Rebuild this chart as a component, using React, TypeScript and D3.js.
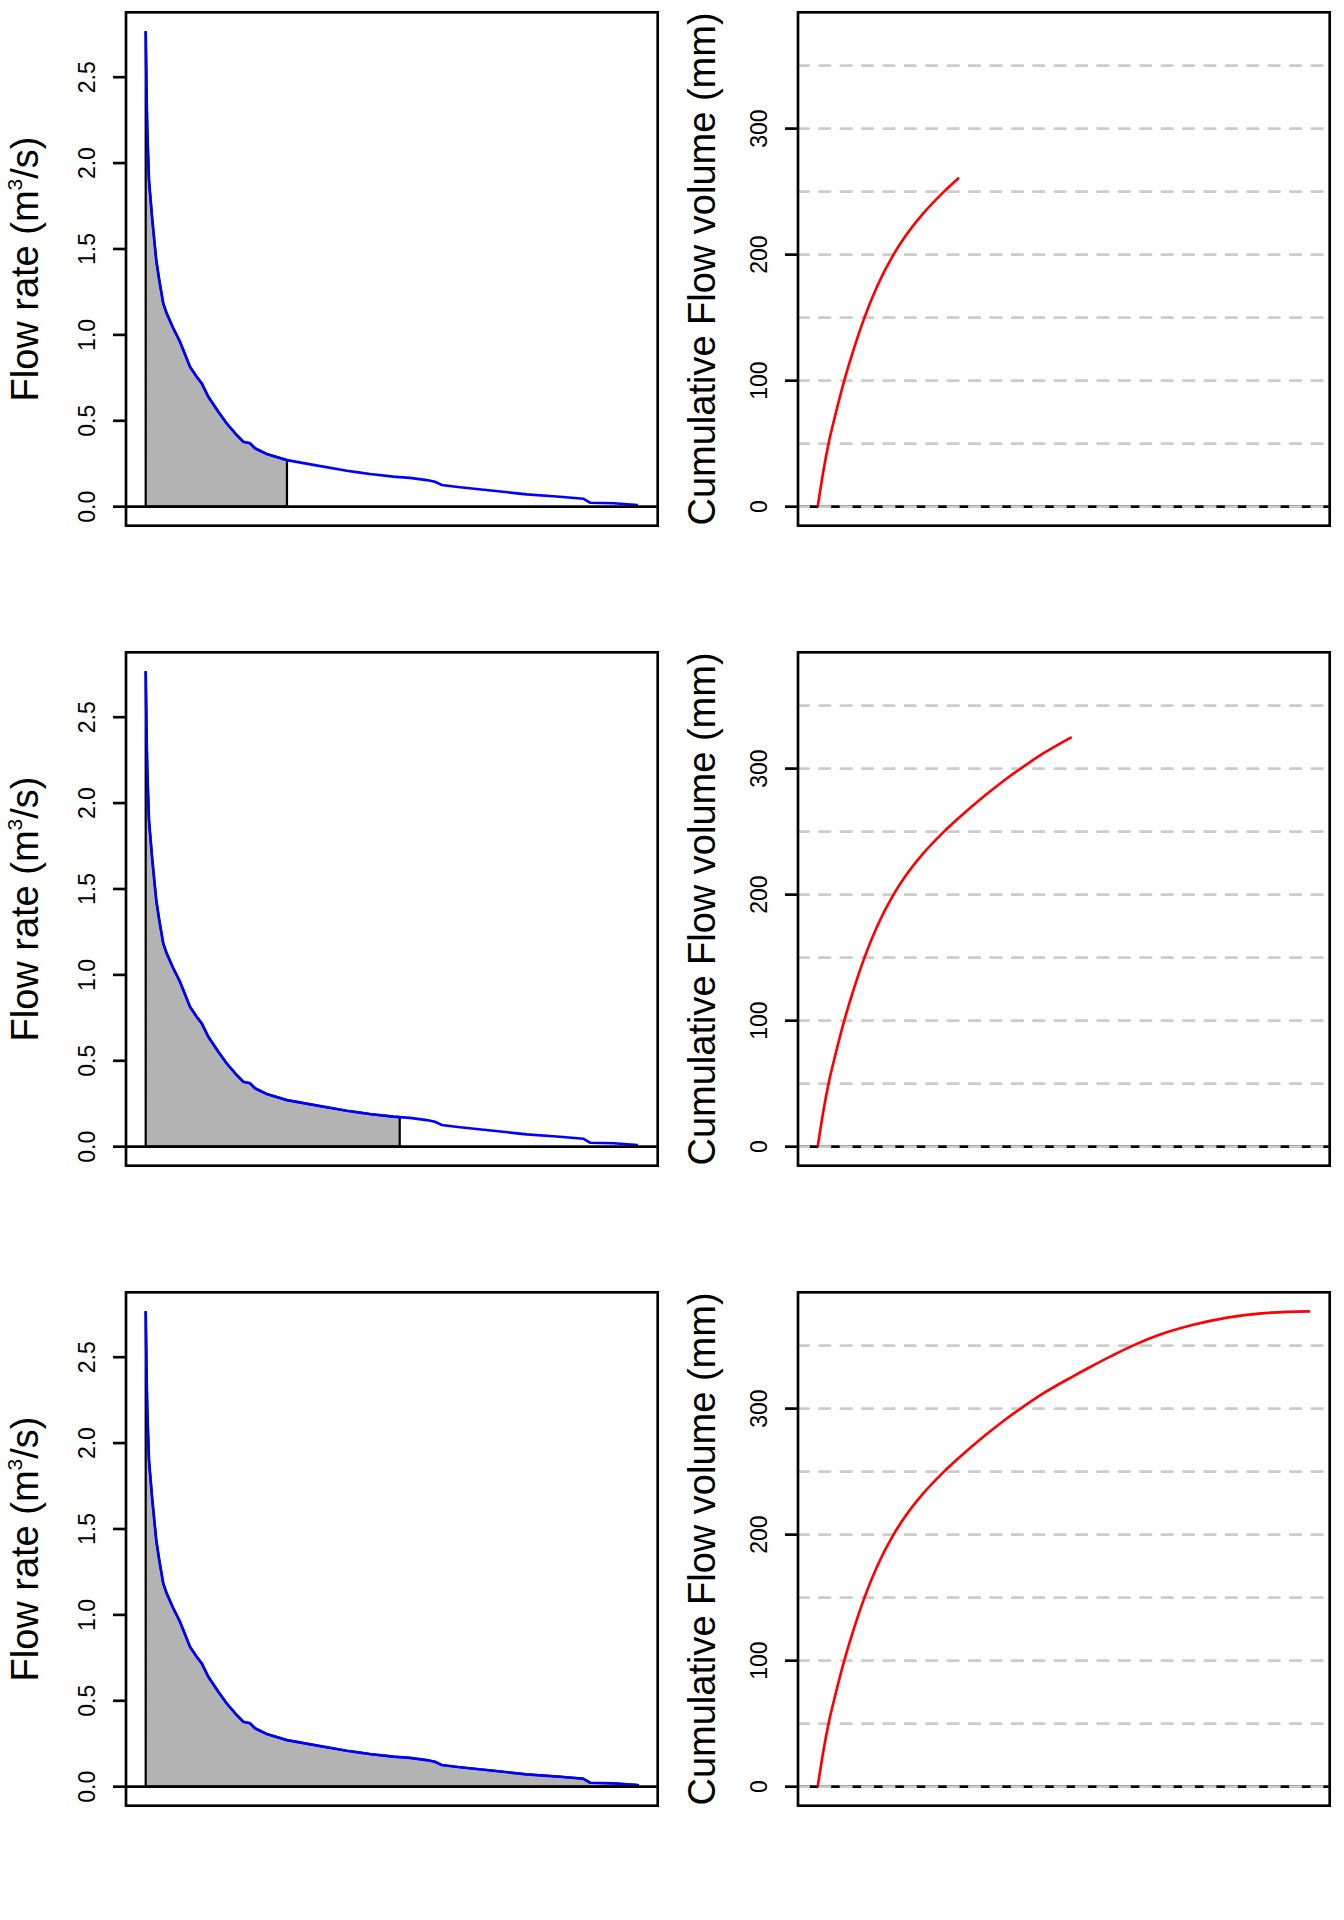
import { scaleLinear, line, curveMonotoneX } from "d3";

// flow duration curve (fraction of record exceeded vs flow)
const flowExceedance = [
  0, 0.002, 0.0033, 0.0067, 0.0134, 0.0215, 0.0276, 0.0357, 0.0427, 0.0561,
  0.0697, 0.09, 0.1036, 0.1138, 0.1272, 0.1475, 0.1645, 0.1849, 0.1984,
  0.2119, 0.2221, 0.2458, 0.287, 0.3405, 0.4084, 0.4353, 0.4556, 0.5029,
  0.516, 0.5369, 0.5708, 0.5877, 0.6013, 0.6385, 0.7062, 0.774, 0.8415,
  0.8889, 0.9025, 0.9499, 1.0,
];
const flowRate = [
  2.767, 2.37, 2.19, 1.9, 1.67, 1.434, 1.318, 1.183, 1.125, 1.038, 0.96,
  0.814, 0.756, 0.718, 0.64, 0.553, 0.485, 0.417, 0.378, 0.369, 0.34, 0.307,
  0.271, 0.243, 0.209, 0.198, 0.19, 0.175, 0.172, 0.168, 0.155, 0.145, 0.126,
  0.113, 0.093, 0.072, 0.058, 0.0465, 0.023, 0.0198, 0.0099,
];

// cumulative volume along the same axis
const volumeExceedance = [
  0, 0.0114, 0.022, 0.036, 0.054, 0.072, 0.095, 0.1215, 0.154, 0.178, 0.214,
  0.2566, 0.287, 0.313, 0.37, 0.409, 0.4556, 0.516, 0.548, 0.598, 0.64, 0.69,
  0.761, 0.832, 0.896, 0.953, 1.0,
];
const cumulativeVolume = [
  0, 28, 50, 73, 100, 123.4, 150, 175.5, 200, 214.5, 232.5, 250, 261, 270,
  288, 299.1, 311.4, 325, 331.8, 342, 350, 358, 366.3, 372.2, 375.4, 376.8,
  377.2,
];

// where the shaded part stops in each row
const cutoffs = [0.287, 0.516, 1.0];

const flowTicks = [0, 0.5, 1.0, 1.5, 2.0, 2.5];
const flowTickLabels = ["0.0", "0.5", "1.0", "1.5", "2.0", "2.5"];
const volumeTicks = [0, 100, 200, 300];
const gridLevels = [0, 50, 100, 150, 200, 250, 300, 350];

const W = 1344;
const H = 1920;
const rowH = 640;
const colW = 672;
const box = { top: 12.3, bottom: 525.7, left: 126, right: 657.7 };
const lw = 2.67;
const font = "'Liberation Sans', Arial, Helvetica, sans-serif";

const pad = (lo: number, hi: number) => {
  const e = (hi - lo) * 0.04;
  return [lo - e, hi + e];
};

const xScale = scaleLinear()
  .domain(pad(0, 1))
  .range([box.left, box.right]);

const flowMax = Math.max(...flowRate);
const volMax = Math.max(...cumulativeVolume);

const yFlow = scaleLinear().domain(pad(0, flowMax)).range([box.bottom, box.top]);
const yVol = scaleLinear().domain(pad(0, volMax)).range([box.bottom, box.top]);

const flowPts: [number, number][] = flowExceedance.map((f, i) => [f, flowRate[i]]);
const volPts: [number, number][] = volumeExceedance.map((f, i) => [f, cumulativeVolume[i]]);

const flowLine = line<[number, number]>()
  .x((d) => xScale(d[0]))
  .y((d) => yFlow(d[1]));

const volLine = line<[number, number]>()
  .x((d) => xScale(d[0]))
  .y((d) => yVol(d[1]))
  .curve(curveMonotoneX);

const YLabel = ({ x, y, children }: { x: number; y: number; children: any }) => (
  <text
    x={x}
    y={y}
    transform={`rotate(-90, ${x}, ${y})`}
    textAnchor="middle"
    fontFamily={font}
    fontSize={38}
  >
    {children}
  </text>
);

const Ticks = ({ ticks, labels, scale }: { ticks: number[]; labels: string[]; scale: any }) => (
  <g>
    {ticks.map((t, i) => {
      const y = scale(t);
      const tx = box.left - 31;
      return (
        <g key={t}>
          <line x1={box.left - 13} x2={box.left} y1={y} y2={y} stroke="black" strokeWidth={lw} />
          <text
            x={tx}
            y={y}
            transform={`rotate(-90, ${tx}, ${y})`}
            textAnchor="middle"
            fontFamily={font}
            fontSize={23}
          >
            {labels[i]}
          </text>
        </g>
      );
    })}
  </g>
);

const FlowPanel = ({ cut }: { cut: number }) => {
  const shaded = flowPts.filter((d) => d[0] <= cut + 1e-9);
  const last = shaded[shaded.length - 1];
  const poly: [number, number][] = [[0, 0], ...shaded, [last[0], 0]];
  const polyPath = flowLine(poly) + "Z";
  const midY = (box.top + box.bottom) / 2;
  return (
    <g>
      <path d={polyPath} fill="#b3b3b3" stroke="black" strokeWidth={2.2} />
      <path d={flowLine(flowPts) || ""} fill="none" stroke="#0000ff" strokeWidth={lw} />
      <line x1={box.left} x2={box.right} y1={yFlow(0)} y2={yFlow(0)} stroke="black" strokeWidth={lw} />
      <rect
        x={box.left}
        y={box.top}
        width={box.right - box.left}
        height={box.bottom - box.top}
        fill="none"
        stroke="black"
        strokeWidth={lw}
      />
      <Ticks ticks={flowTicks} labels={flowTickLabels} scale={yFlow} />
      <YLabel x={38} y={midY}>
        Flow rate (m
        <tspan fontSize={21} dy={-16}>
          3
        </tspan>
        <tspan dy={16}>/s)</tspan>
      </YLabel>
    </g>
  );
};

const VolumePanel = ({ cut }: { cut: number }) => {
  const pts = volPts.filter((d) => d[0] <= cut + 1e-9);
  const midY = (box.top + box.bottom) / 2;
  return (
    <g>
      <line x1={box.left} x2={box.right} y1={yVol(0)} y2={yVol(0)} stroke="black" strokeWidth={lw} />
      {gridLevels.map((g) => (
        <line
          key={g}
          x1={box.left}
          x2={box.right}
          y1={yVol(g)}
          y2={yVol(g)}
          stroke="#cccccc"
          strokeWidth={lw}
          strokeDasharray="10.7 10.7"
          strokeLinecap="round"
        />
      ))}
      <path d={volLine(pts) || ""} fill="none" stroke="#ff0000" strokeWidth={lw} />
      <rect
        x={box.left}
        y={box.top}
        width={box.right - box.left}
        height={box.bottom - box.top}
        fill="none"
        stroke="black"
        strokeWidth={lw}
      />
      <Ticks ticks={volumeTicks} labels={volumeTicks.map(String)} scale={yVol} />
      <YLabel x={43} y={midY}>
        Cumulative Flow volume (mm)
      </YLabel>
    </g>
  );
};

export default function App() {
  return (
    <svg
      width={W}
      height={H}
      style={{ position: "absolute", left: 0, top: 0, background: "white" }}
    >
      <rect width={W} height={H} fill="white" />
      {cutoffs.map((cut, r) => (
        <g key={r} transform={`translate(0, ${r * rowH})`}>
          <FlowPanel cut={cut} />
          <g transform={`translate(${colW}, 0)`}>
            <VolumePanel cut={cut} />
          </g>
        </g>
      ))}
    </svg>
  );
}
